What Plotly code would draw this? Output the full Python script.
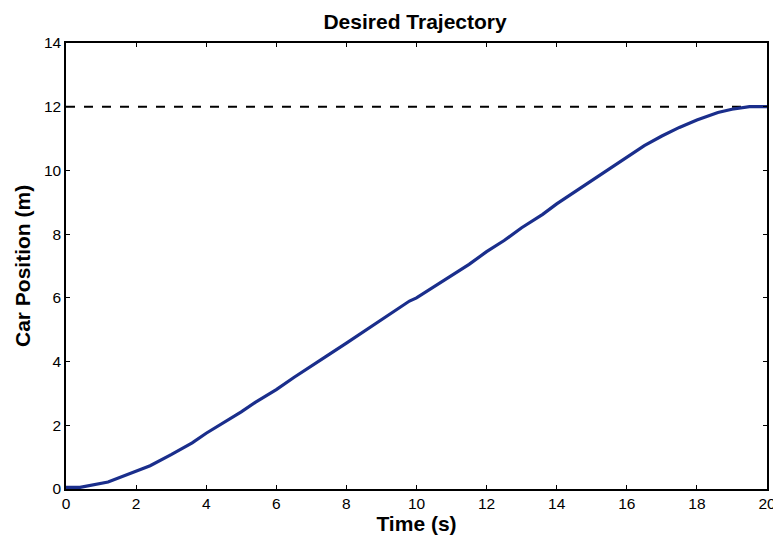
import plotly.graph_objects as go

# Desired car trajectory over time
time_s = [0, 0.4, 1.2, 2.0, 2.4, 3.0, 3.6, 4.0, 4.5, 5.0, 5.4, 6.0, 6.5, 7.0, 7.4,
          8.0, 8.5, 9.0, 9.5, 9.8, 10.0, 10.5, 11.0, 11.5, 12.0, 12.5, 13.0, 13.6,
          14.0, 14.5, 15.0, 15.5, 16.0, 16.5, 17.0, 17.5, 18.0, 18.6, 19.0, 19.5, 20.0]
position_m = [0.05, 0.05, 0.22, 0.55, 0.73, 1.08, 1.45, 1.75, 2.08, 2.42, 2.72, 3.12,
              3.5, 3.85, 4.15, 4.58, 4.95, 5.32, 5.68, 5.9, 6.0, 6.35, 6.7, 7.05, 7.45,
              7.8, 8.2, 8.62, 8.95, 9.32, 9.68, 10.05, 10.42, 10.78, 11.08, 11.35,
              11.58, 11.82, 11.92, 12.0, 12.0]

# Target position reference
target_x = [0, 20]
target_y = [12, 12]

x_ticks = list(range(0, 21, 2))
y_ticks = list(range(0, 15, 2))

FONT = "Arial, Liberation Sans, sans-serif"
W, H = 773, 538
ML, MR, MT, MB = 66, 6, 43, 49

fig = go.Figure()
fig.add_trace(go.Scatter(x=target_x, y=target_y, mode="lines",
                         line=dict(color="black", width=2, dash="dash"),
                         showlegend=False, hoverinfo="skip"))
fig.add_trace(go.Scatter(x=time_s, y=position_m, mode="lines",
                         line=dict(color="#1a2e8c", width=3.2),
                         showlegend=False))

axis_common = dict(
    showgrid=False, zeroline=False, showline=True, linecolor="black",
    linewidth=1.5, mirror="ticks", ticks="inside", ticklen=4, tickcolor="black",
    automargin=False, ticklabeloverflow="allow",
    tickfont=dict(family=FONT, size=15.5, color="black"),
)

fig.update_layout(
    width=W, height=H,
    margin=dict(l=ML, r=MR, t=MT, b=MB),
    paper_bgcolor="white", plot_bgcolor="white",
    title=dict(text="<b>Desired Trajectory</b>", x=0.537, xanchor="center",
               y=1 - 22 / H, yanchor="middle",
               font=dict(family=FONT, size=21, color="black")),
    xaxis=dict(range=[0, 20], tickvals=x_ticks, ticklabelstandoff=0,
               title=dict(text="<b>Time (s)</b>", standoff=0,
                          font=dict(family=FONT, size=21, color="black")),
               **axis_common),
    yaxis=dict(range=[0, 14], tickvals=y_ticks, **axis_common),
)

# Vertical y-axis title placed to the left of the tick labels
fig.add_annotation(
    text="<b>Car Position (m)</b>", textangle=-90, showarrow=False,
    xref="paper", yref="paper", x=(22 - ML) / (W - ML - MR), y=0.5,
    xanchor="center", yanchor="middle",
    font=dict(family=FONT, size=21, color="black"),
)

fig.write_html("out.html")
